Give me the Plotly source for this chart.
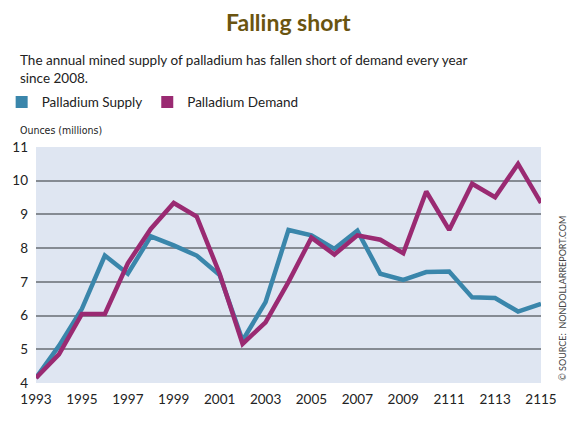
import plotly.graph_objects as go

years = list(range(1993, 2016))
supply = [4.15, 5.1, 6.2, 7.78, 7.24, 8.35, 8.08, 7.78, 7.2, 5.26, 6.4, 8.54,
          8.38, 7.98, 8.52, 7.24, 7.06, 7.29, 7.31, 6.54, 6.52, 6.12, 6.35]
demand = [4.15, 4.85, 6.05, 6.05, 7.55, 8.57, 9.34, 8.94, 7.24, 5.16, 5.8, 7.0,
          8.31, 7.81, 8.38, 8.25, 7.85, 9.68, 8.54, 9.91, 9.51, 10.5, 9.34]
tick_years = list(range(1993, 2016, 2))
tick_labels = ["1993", "1995", "1997", "1999", "2001", "2003", "2005", "2007",
               "2009", "2111", "2113", "2115"]
y_ticks = [4, 5, 6, 7, 8, 9, 10, 11]

BLUE = "#3a86ab"
MAGENTA = "#9a2a72"
FONT = "Lato"

fig = go.Figure()
fig.add_trace(go.Scatter(x=years, y=supply, mode="lines",
                         line=dict(color=BLUE, width=4.5), showlegend=False))
fig.add_trace(go.Scatter(x=years, y=demand, mode="lines",
                         line=dict(color=MAGENTA, width=4.5), showlegend=False))
fig.add_trace(go.Scatter(x=[None], y=[None], mode="markers", name="Palladium Supply",
                         marker=dict(symbol="square", size=12, color=BLUE)))
fig.add_trace(go.Scatter(x=[None], y=[None], mode="markers", name="Palladium Demand",
                         marker=dict(symbol="square", size=12, color=MAGENTA)))

fig.update_layout(
    width=578, height=421,
    margin=dict(l=36, r=37, t=147, b=38, autoexpand=False),
    paper_bgcolor="white",
    plot_bgcolor="#dfe6f2",
    font=dict(family=FONT, color="#222"),
    showlegend=True,
    legend=dict(orientation="h", x=-0.068, xanchor="left", y=1.19, yanchor="middle",
                font=dict(size=13.5, color="#222"), bgcolor="rgba(0,0,0,0)",
                itemwidth=30, tracegroupgap=0),
    xaxis=dict(range=[1993, 2015], tickmode="array", tickvals=tick_years,
               ticktext=tick_labels, showgrid=False, zeroline=False,
               showline=False, ticks="", automargin=False,
               tickfont=dict(size=13.5, color="#222"), ticklabelstandoff=6),
    yaxis=dict(range=[4, 11], tickmode="array", tickvals=y_ticks,
               showgrid=True, gridcolor="#858b93", gridwidth=1.5, zeroline=False,
               showline=False, ticks="", automargin=False,
               tickfont=dict(size=13.5, color="#222"), ticklabelstandoff=7),
    annotations=[
        dict(text="<b>Falling short</b>", x=0.5, y=1.53, xref="paper", yref="paper",
             yanchor="middle", showarrow=False,
             font=dict(size=23, color="#6a5410", family=FONT)),
        dict(text="The annual mined supply of palladium has fallen short of demand every year<br>since 2008.",
             xref="paper", yref="paper", x=-0.036, y=1.33, xanchor="left", yanchor="middle",
             align="left", showarrow=False, font=dict(size=13.5, color="#222")),
        dict(text="Ounces (millions)", xref="paper", yref="paper", x=-0.036, y=1.07,
             xanchor="left", yanchor="middle", showarrow=False,
             font=dict(size=10.5, color="#222", family="DejaVu Sans Condensed, " + FONT)),
        dict(text="© SOURCE:  NONDOLLARREPORT.COM", xref="paper", yref="paper",
             x=1.042, y=0.0, xanchor="center", yanchor="bottom", textangle=-90,
             showarrow=False, font=dict(size=9, color="#444")),
    ],
)
fig.write_html("out.html", config={"displayModeBar": False},
               post_script="document.body.style.margin='0';document.body.style.overflow='hidden';")
